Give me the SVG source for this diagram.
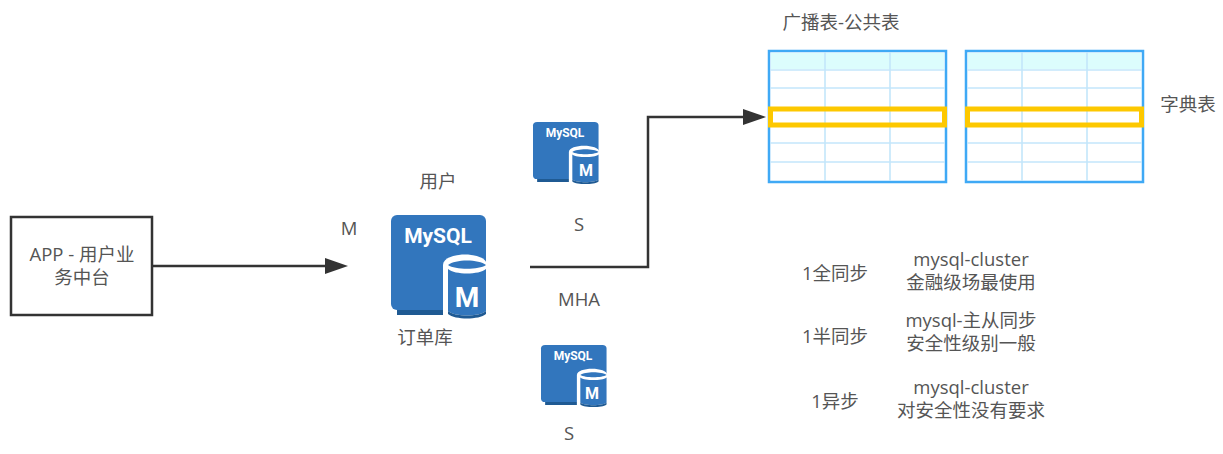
<svg xmlns="http://www.w3.org/2000/svg" xmlns:xlink="http://www.w3.org/1999/xlink" width="1223" height="454" viewBox="0 0 1223 454">
<style>
text{font-family:"Open Sans","Noto Sans CJK SC",sans-serif;font-size:18.5px;fill:#555;text-anchor:middle}
.conn{fill:none;stroke:#333;stroke-width:2.5}
.outer{fill:#fff;stroke:#3fa9f5;stroke-width:2.5}
.head{fill:#dcfdfd}
.grid{stroke:#c4e6fb;stroke-width:1.6;fill:none}
.sel{fill:none;stroke:#fdc800;stroke-width:5}
.my{font-family:Roboto,sans-serif;fill:#fff;font-weight:bold}
</style>
<defs>
<marker id="arrow" markerUnits="userSpaceOnUse" markerWidth="26" markerHeight="20" refX="14" refY="9" orient="auto"><path d="M1 1L24 9L1 17Z" fill="#333"/></marker>
<g id="table">
<rect class="outer" x="0" y="0" width="177" height="131"/>
<rect class="head" x="2" y="2" width="173" height="16"/>
<path class="grid" d="M1 19H176M1 37H176M1 74H176M1 92H176M1 111H176M56 1V130M121 1V130"/>
<rect class="sel" x="1.5" y="58" width="174" height="16"/>
</g>
<g id="db">
<path d="M6 10H90V100H6Z" fill="#1f5a93"/>
<rect x="0" y="0" width="95" height="95" rx="6" fill="#3276bd"/>
<path d="M52 50C52 36 96 36 96 50V103H52Z" fill="#fff"/>
<path d="M57 54C64 60 88 60 95 54V96C88 102 64 102 57 96Z" fill="#3276bd"/>
<path d="M57 50C64 44 88 44 95 50C88 55 64 55 57 50Z" fill="#3276bd"/>
<path d="M57 96C64 102 88 102 95 96V99C88 105 64 105 57 99Z" fill="#1f5a93"/>
</g>
</defs>
<g id="connectors">
<path class="conn" d="M153 266H338" marker-end="url(#arrow)"/>
<path class="conn" d="M530 267H648V117H756" marker-end="url(#arrow)"/>
</g>
<g id="app"><rect x="11" y="217" width="141" height="98" fill="#fff" stroke="#333" stroke-width="2.5"/>
<text x="82" y="261">APP - 用户业</text><text x="82" y="284">务中台</text></g>
<g id="m-label"><text x="349" y="235">M</text></g>
<g id="master"><use xlink:href="#db" x="391" y="215"/>
<text class="my" x="438" y="243" style="font-size:21px">MySQL</text>
<text class="my" x="467" y="307" style="font-size:28px">M</text>
<text x="438" y="188">用户</text><text x="425" y="344">订单库</text></g>
<g id="slave1"><use xlink:href="#db" transform="translate(533 122) scale(.69 .6)"/>
<text class="my" x="565" y="137" style="font-size:12px">MySQL</text>
<text class="my" x="586" y="176" style="font-size:16px">M</text>
<text x="579" y="231">S</text></g>
<g id="mha"><text x="579" y="306">MHA</text></g>
<g id="slave2"><use xlink:href="#db" transform="translate(541 345) scale(.69 .6)"/>
<text class="my" x="573" y="360" style="font-size:12px">MySQL</text>
<text class="my" x="592" y="399" style="font-size:16px">M</text>
<text x="569" y="440">S</text></g>
<g id="table1"><use xlink:href="#table" x="769" y="51"/><text x="841" y="29">广播表-公共表</text></g>
<g id="table2"><use xlink:href="#table" x="966" y="51"/><text x="1188" y="111">字典表</text></g>
<g id="notes">
<text x="835" y="280">1全同步</text>
<text x="971" y="266">mysql-cluster</text><text x="971" y="289">金融级场最使用</text>
<text x="835" y="343">1半同步</text>
<text x="971" y="327">mysql-主从同步</text><text x="971" y="350">安全性级别一般</text>
<text x="835" y="408">1异步</text>
<text x="971" y="394">mysql-cluster</text><text x="971" y="417">对安全性没有要求</text>
</g>
</svg>
